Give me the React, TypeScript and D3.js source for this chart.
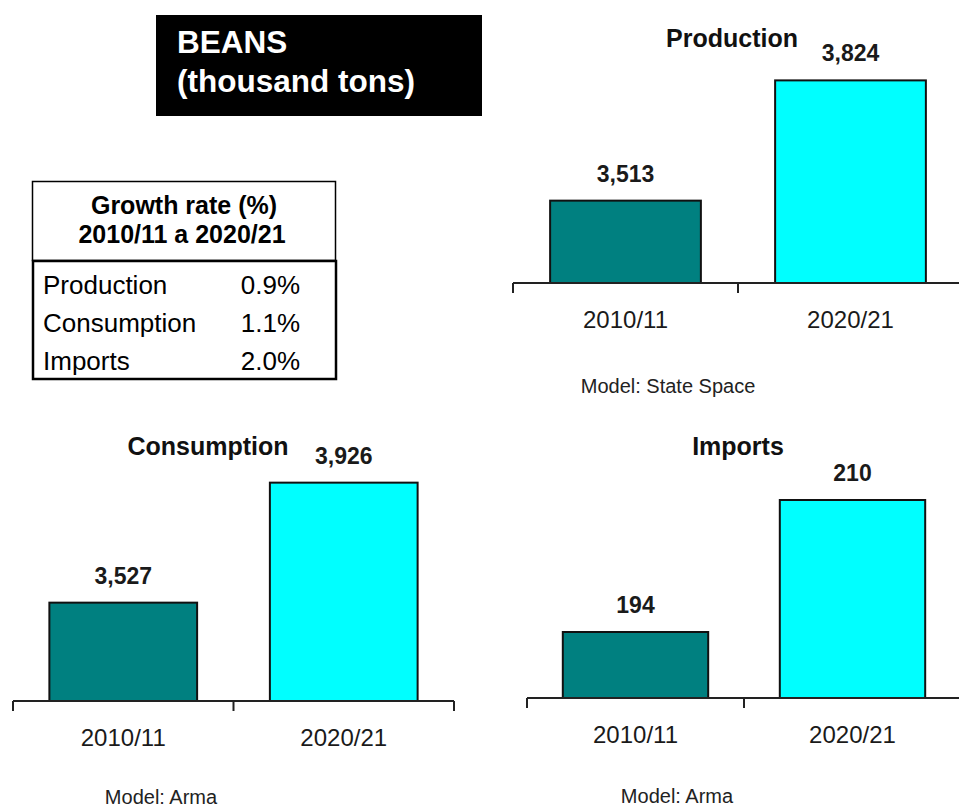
import React, { useEffect, useRef } from "react";
import * as d3 from "d3";

// chart data
const categories = ["2010/11", "2020/21"];
const productionValues = [3513, 3824];
const consumptionValues = [3527, 3926];
const importsValues = [194, 210];
const panelTitles = ["Production", "Consumption", "Imports"];
const modelNames = ["State Space", "Arma", "Arma"];
const growthLabels = ["Production", "Consumption", "Imports"];
const growthRates = [0.9, 1.1, 2.0];

const FONT = "'Liberation Sans', Arial, Helvetica, sans-serif";
const barColors = ["#008080", "#00ffff"];

type Panel = {
  title: string;
  values: number[];
  model: string;
  domain: [number, number];
  x0: number;
  x1: number;
  axisY: number;
  plotH: number;
  titleX: number;
  titleY: number;
  modelX: number;
  modelY: number;
};

const panels: Panel[] = [
  {
    title: panelTitles[0], values: productionValues, model: modelNames[0],
    domain: [3300, 3900], x0: 513, x1: 963, axisY: 283, plotH: 232,
    titleX: 732, titleY: 47, modelX: 668, modelY: 393,
  },
  {
    title: panelTitles[1], values: consumptionValues, model: modelNames[1],
    domain: [3200, 4000], x0: 13, x1: 454, axisY: 701, plotH: 240.6,
    titleX: 208, titleY: 455, modelX: 161, modelY: 804,
  },
  {
    title: panelTitles[2], values: importsValues, model: modelNames[2],
    domain: [186, 214], x0: 527, x1: 961, axisY: 698, plotH: 231,
    titleX: 738, titleY: 455, modelX: 677, modelY: 803,
  },
];

const App = () => {
  const svgRef = useRef<SVGSVGElement>(null);

  useEffect(() => {
    const svg = d3.select(svgRef.current);
    svg.selectAll("*").remove();
    svg.attr("width", 959).attr("height", 810).style("font-family", FONT);

    // title box
    const head = svg.append("g");
    head.append("rect")
      .attr("x", 156).attr("y", 15).attr("width", 326).attr("height", 101)
      .attr("fill", "#000");
    head.append("text")
      .attr("x", 177).attr("y", 53)
      .attr("fill", "#fff").attr("font-weight", "bold").attr("font-size", 31.5)
      .text("BEANS");
    head.append("text")
      .attr("x", 177).attr("y", 92)
      .attr("fill", "#fff").attr("font-weight", "bold").attr("font-size", 31.5)
      .text("(thousand tons)");

    // growth rate table
    const tbl = svg.append("g");
    tbl.append("rect")
      .attr("x", 32.5).attr("y", 181.5).attr("width", 303).attr("height", 79)
      .attr("fill", "#fff").attr("stroke", "#000").attr("stroke-width", 1.5);
    tbl.append("rect")
      .attr("x", 33).attr("y", 261).attr("width", 303).attr("height", 118)
      .attr("fill", "none").attr("stroke", "#000").attr("stroke-width", 2.5);
    tbl.append("text")
      .attr("x", 184).attr("y", 214).attr("text-anchor", "middle")
      .attr("font-weight", "bold").attr("font-size", 25)
      .text("Growth rate (%)");
    tbl.append("text")
      .attr("x", 182).attr("y", 243).attr("text-anchor", "middle")
      .attr("font-weight", "bold").attr("font-size", 25)
      .text(`${categories[0]} a ${categories[1]}`);

    const rowY = d3.scalePoint<string>().domain(growthLabels).range([294, 370]);
    const fmtRate = d3.format(".1f");
    growthLabels.forEach((lab, i) => {
      tbl.append("text")
        .attr("x", 43).attr("y", rowY(lab)!)
        .attr("font-size", 26)
        .text(lab);
      tbl.append("text")
        .attr("x", 300).attr("y", rowY(lab)!).attr("text-anchor", "end")
        .attr("font-size", 26)
        .text(fmtRate(growthRates[i]) + "%");
    });

    // bar panels
    const fmtVal = d3.format(",");
    panels.forEach((p) => {
      const g = svg.append("g");
      const x = d3.scaleBand<string>()
        .domain(categories)
        .range([p.x0, p.x1])
        .paddingInner(0.33)
        .paddingOuter(0.165);
      const y = d3.scaleLinear().domain(p.domain).range([p.axisY, p.axisY - p.plotH]);

      g.selectAll("rect.bar")
        .data(p.values)
        .join("rect")
        .attr("class", "bar")
        .attr("x", (_d, i) => x(categories[i])!)
        .attr("y", (d) => y(d))
        .attr("width", x.bandwidth())
        .attr("height", (d) => p.axisY - y(d))
        .attr("fill", (_d, i) => barColors[i])
        .attr("stroke", "#111")
        .attr("stroke-width", 2);

      g.selectAll("text.val")
        .data(p.values)
        .join("text")
        .attr("class", "val")
        .attr("x", (_d, i) => x(categories[i])! + x.bandwidth() / 2)
        .attr("y", (d) => y(d) - 19)
        .attr("text-anchor", "middle")
        .attr("font-weight", "bold").attr("font-size", 23)
        .attr("fill", "#1a1a1a")
        .text((d) => fmtVal(d));

      // category axis with ticks between categories
      g.append("line")
        .attr("x1", p.x0).attr("x2", p.x1)
        .attr("y1", p.axisY).attr("y2", p.axisY)
        .attr("stroke", "#222").attr("stroke-width", 2);
      const tickXs = d3.range(categories.length + 1).map((i) => p.x0 + i * x.step());
      g.selectAll("line.tick")
        .data(tickXs)
        .join("line")
        .attr("class", "tick")
        .attr("x1", (d) => d).attr("x2", (d) => d)
        .attr("y1", p.axisY).attr("y2", p.axisY + 10)
        .attr("stroke", "#222").attr("stroke-width", 2);

      g.selectAll("text.cat")
        .data(categories)
        .join("text")
        .attr("class", "cat")
        .attr("x", (d) => x(d)! + x.bandwidth() / 2)
        .attr("y", p.axisY + 45)
        .attr("text-anchor", "middle")
        .attr("font-size", 24)
        .attr("fill", "#1a1a1a")
        .text((d) => d);

      g.append("text")
        .attr("x", p.titleX).attr("y", p.titleY)
        .attr("text-anchor", "middle")
        .attr("font-weight", "bold").attr("font-size", 25)
        .attr("fill", "#111")
        .text(p.title);

      g.append("text")
        .attr("x", p.modelX).attr("y", p.modelY)
        .attr("text-anchor", "middle")
        .attr("font-size", 20)
        .attr("fill", "#222")
        .text(`Model: ${p.model}`);
    });
  }, []);

  return (
    <svg
      ref={svgRef}
      style={{ position: "absolute", left: 0, top: 0, background: "#fff" }}
    />
  );
};

export default App;
